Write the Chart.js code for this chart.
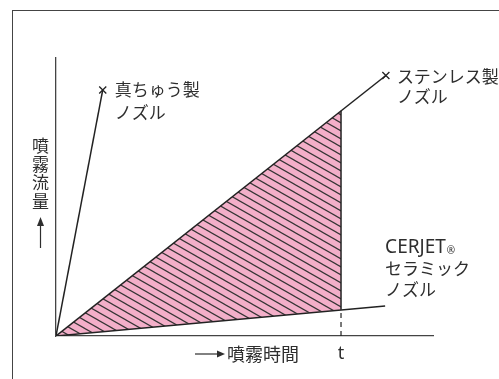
<!DOCTYPE html>
<html>
<head>
<meta charset="utf-8">
<script src="https://cdn.jsdelivr.net/npm/chart.js@4"></script>
<style>
  body { margin: 0; background: #fff; }
  #wrap { position: relative; width: 499px; height: 379px; overflow: hidden; }
  #frame { position: absolute; left: 12px; top: 10px; right: -5px; bottom: -5px;
           border-left: 1.5px solid #444; border-top: 1.5px solid #444; }
  canvas { position: absolute; left: 0; top: 0; }
</style>
</head>
<body>
<div id="wrap">
  <div id="frame"></div>
  <canvas id="chart" width="499" height="379"></canvas>
</div>
<script>
// values (time / flow in arbitrary units 0..10)
const nozzleLabels = [["真ちゅう製", "ノズル"], ["ステンレス製", "ノズル"], ["CERJET", "セラミック", "ノズル"]];
const endTime = [1.24, 8.75, 8.73];
const endFlow = [8.85, 9.37, 1.08];
const tTime = 7.56;
const stainlessAtT = 8.10;
const cerjetAtT = 0.94;
const xTitle = "噴霧時間";
const yTitle = "噴霧流量";
const tickLabel = "t";

const pink = "#f3afc9";
const ink = "#222";
const FONT = '"Noto Sans CJK JP", "Noto Sans", sans-serif';

function hatch() {
    const c = document.createElement("canvas");
    c.width = 14; c.height = 8;
    const g = c.getContext("2d");
    g.fillStyle = pink;
    g.fillRect(0, 0, 14, 8);
    g.strokeStyle = "#333";
    g.lineWidth = 1.2;
    for (const o of [-8, 0, 8]) {
        g.beginPath();
        g.moveTo(-14, o - 8);
        g.lineTo(28, o + 16);
        g.stroke();
    }
    return g.createPattern(c, "repeat");
}

function seg(x0, y0, x1, y1) { return [{x: x0, y: y0}, {x: x1, y: y1}]; }

const labelPlugin = {
    id: "labels",
    afterDatasetsDraw(chart) {
        const ctx = chart.ctx, xs = chart.scales.x, ys = chart.scales.y;
        ctx.save();
        ctx.fillStyle = "#2e2e2e";
        ctx.strokeStyle = "#2e2e2e";
        ctx.textBaseline = "middle";
        ctx.font = "17px " + FONT;

        // brass
        let px = xs.getPixelForValue(endTime[0]), py = ys.getPixelForValue(endFlow[0]);
        ctx.textAlign = "left";
        ctx.fillText(nozzleLabels[0][0], px + 12, py);
        ctx.fillText(nozzleLabels[0][1], px + 12, py + 23);

        // stainless
        px = xs.getPixelForValue(endTime[1]); py = ys.getPixelForValue(endFlow[1]);
        ctx.fillText(nozzleLabels[1][0], px + 11, py + 1);
        ctx.fillText(nozzleLabels[1][1], px + 11, py + 21);

        // cerjet
        px = xs.getPixelForValue(endTime[2]); py = ys.getPixelForValue(endFlow[2]);
        ctx.font = '19px "Noto Sans", sans-serif';
        ctx.fillText(nozzleLabels[2][0], px, py - 58);
        const w = ctx.measureText(nozzleLabels[2][0]).width;
        ctx.font = '10px "Noto Sans", sans-serif';
        ctx.fillText("®", px + w + 1, py - 55);
        ctx.font = "17px " + FONT;
        ctx.fillText(nozzleLabels[2][1], px, py - 37);
        ctx.fillText(nozzleLabels[2][2], px, py - 16);

        // t tick
        const area = chart.chartArea;
        ctx.textAlign = "center";
        ctx.font = '18px "Noto Sans", sans-serif';
        ctx.fillText(tickLabel, xs.getPixelForValue(tTime), area.bottom + 18);

        // x title with arrow
        const ty = area.bottom + 18;
        ctx.lineWidth = 1.2;
        ctx.beginPath(); ctx.moveTo(195, ty); ctx.lineTo(219, ty); ctx.stroke();
        ctx.beginPath(); ctx.moveTo(225, ty); ctx.lineTo(217, ty - 3.5); ctx.lineTo(217, ty + 3.5); ctx.closePath(); ctx.fill();
        ctx.textAlign = "left";
        ctx.font = "18px " + FONT;
        ctx.fillText(xTitle, 227, ty);

        // y title, stacked characters, with arrow
        ctx.font = "17px " + FONT;
        ctx.textAlign = "center";
        [...yTitle].forEach((ch, i) => ctx.fillText(ch, 40.5, 146 + i * 18.5));
        ctx.beginPath(); ctx.moveTo(40.5, 248); ctx.lineTo(40.5, 224); ctx.stroke();
        ctx.beginPath(); ctx.moveTo(40.5, 217); ctx.lineTo(37, 226); ctx.lineTo(44, 226); ctx.closePath(); ctx.fill();
        ctx.restore();
    }
};

const ctx = document.getElementById("chart").getContext("2d");
const lineStyle = { showLine: true, borderColor: ink, borderWidth: 1.5, pointRadius: 0, fill: false };

new Chart(ctx, {
    type: "scatter",
    data: {
        datasets: [
            // shaded area: stainless up to t, filled down to the cerjet line
            { ...lineStyle, data: seg(0, 0, tTime, stainlessAtT), borderWidth: 0,
              backgroundColor: hatch(), fill: 1 },
            { ...lineStyle, data: seg(0, 0, tTime, cerjetAtT), borderWidth: 0 },
            // brass
            { ...lineStyle, data: seg(0, 0, endTime[0], endFlow[0]),
              pointRadius: [0, 5], pointStyle: "crossRot", pointBorderWidth: 1.3 },
            // stainless
            { ...lineStyle, data: seg(0, 0, endTime[1], endFlow[1]),
              pointRadius: [0, 5], pointStyle: "crossRot", pointBorderWidth: 1.3 },
            // cerjet
            { ...lineStyle, data: seg(0, 0, endTime[2], endFlow[2]) },
            // edge of shaded area at t
            { ...lineStyle, data: seg(tTime, cerjetAtT, tTime, stainlessAtT) },
            // dashed drop to the time axis
            { ...lineStyle, data: seg(tTime, 0, tTime, cerjetAtT), borderWidth: 1.2, borderDash: [5, 4] }
        ]
    },
    options: {
        responsive: false,
        animation: false,
        layout: { padding: { left: 56, top: 58, right: 66, bottom: 43 } },
        plugins: {
            legend: { display: false },
            tooltip: { enabled: false },
            filler: { drawTime: "beforeDatasetsDraw" }
        },
        scales: {
            x: { type: "linear", min: 0, max: 10,
                 ticks: { display: false }, grid: { display: false },
                 border: { display: true, color: "#444", width: 1.3 },
                 afterFit(s) { s.height = 0; } },
            y: { type: "linear", min: 0, max: 10,
                 ticks: { display: false }, grid: { display: false },
                 border: { display: true, color: "#444", width: 1.3 },
                 afterFit(s) { s.width = 0; } }
        }
    },
    plugins: [labelPlugin]
});
</script>
</body>
</html>
